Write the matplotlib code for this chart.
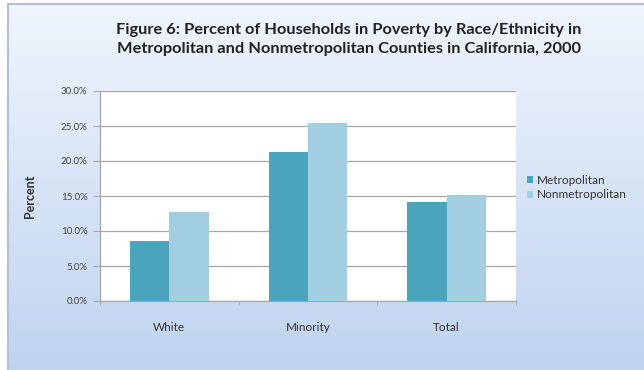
import numpy as np
import matplotlib.pyplot as plt
from matplotlib.patches import Rectangle
from matplotlib.ticker import PercentFormatter

plt.rcParams['font.family'] = ['Lato', 'DejaVu Sans']

categories = ['White', 'Minority', 'Total']
metro = [8.6, 21.3, 14.1]
nonmetro = [12.7, 25.4, 15.1]
series_names = ['Metropolitan', 'Nonmetropolitan']
yticks = [0, 5, 10, 15, 20, 25, 30]

c_metro = '#4aa4bc'
c_nonmetro = '#a1cee0'
text_col = '#333333'

fig = plt.figure(figsize=(6.44, 3.70), dpi=100)
fig.patch.set_facecolor('white')

# gradient panel behind the chart
bg = fig.add_axes([0, 0, 1, 1], zorder=0)
grad = np.linspace(0, 1, 256).reshape(-1, 1)
top = np.array([0.94, 0.96, 0.99])
bot = np.array([0.75, 0.83, 0.94])
img = top + (bot - top) * grad[..., None]
bg.imshow(img, extent=[8 / 644, 1, 0, 1 - 4 / 370], aspect='auto',
          transform=bg.transAxes)
bg.add_patch(Rectangle((8 / 644, -0.01), 1, 1 - 4 / 370 + 0.01, fill=False,
                       edgecolor='#b4c0d6', lw=1.5, transform=bg.transAxes))
bg.set_xlim(0, 1)
bg.set_ylim(0, 1)
bg.axis('off')

ax = fig.add_axes([100 / 644, 69 / 370, 416 / 644, 210 / 370], zorder=1)
ax.set_facecolor('white')

x = np.arange(len(categories))
w = 0.283
ax.bar(x - w / 2, metro, w, color=c_metro, label=series_names[0], zorder=3)
ax.bar(x + w / 2, nonmetro, w, color=c_nonmetro, label=series_names[1], zorder=3)

ax.set_xlim(-0.5, len(categories) - 0.5)
ax.set_ylim(0, 30)
ax.set_yticks(yticks)
ax.yaxis.set_major_formatter(PercentFormatter(decimals=1))
ax.grid(axis='y', color='#a6a6a6', lw=0.9, zorder=1)
ax.set_xticks(x)
ax.set_xticklabels(categories)
ax.set_xticks(np.arange(len(categories) + 1) - 0.5, minor=True)
ax.tick_params(axis='x', which='major', length=0, pad=15, labelsize=8.5,
               labelcolor=text_col)
ax.tick_params(axis='x', which='minor', length=3, color='#a6a6a6')
ax.tick_params(axis='y', length=5, color='#a6a6a6', labelsize=7,
               labelcolor='#444444', pad=4)
for s in ['top', 'right']:
    ax.spines[s].set_visible(False)
for s in ['left', 'bottom']:
    ax.spines[s].set_color('#a6a6a6')
    ax.spines[s].set_linewidth(0.9)

ax.set_ylabel('Percent', fontsize=9, fontweight='bold', color=text_col, labelpad=18)

ax.legend(loc='center left', bbox_to_anchor=(1.0, 0.54), frameon=False,
          fontsize=8.5, handlelength=0.5, handleheight=0.5, handletextpad=0.4,
          labelspacing=0.3, labelcolor=text_col)

fig.text(0.542, 0.892, 'Figure 6: Percent of Households in Poverty by Race/Ethnicity in\n'
         'Metropolitan and Nonmetropolitan Counties in California, 2000',
         ha='center', va='center', fontsize=11.8, fontweight='bold',
         color='#222222', linespacing=1.45)

fig.savefig('out.png', dpi=100)
